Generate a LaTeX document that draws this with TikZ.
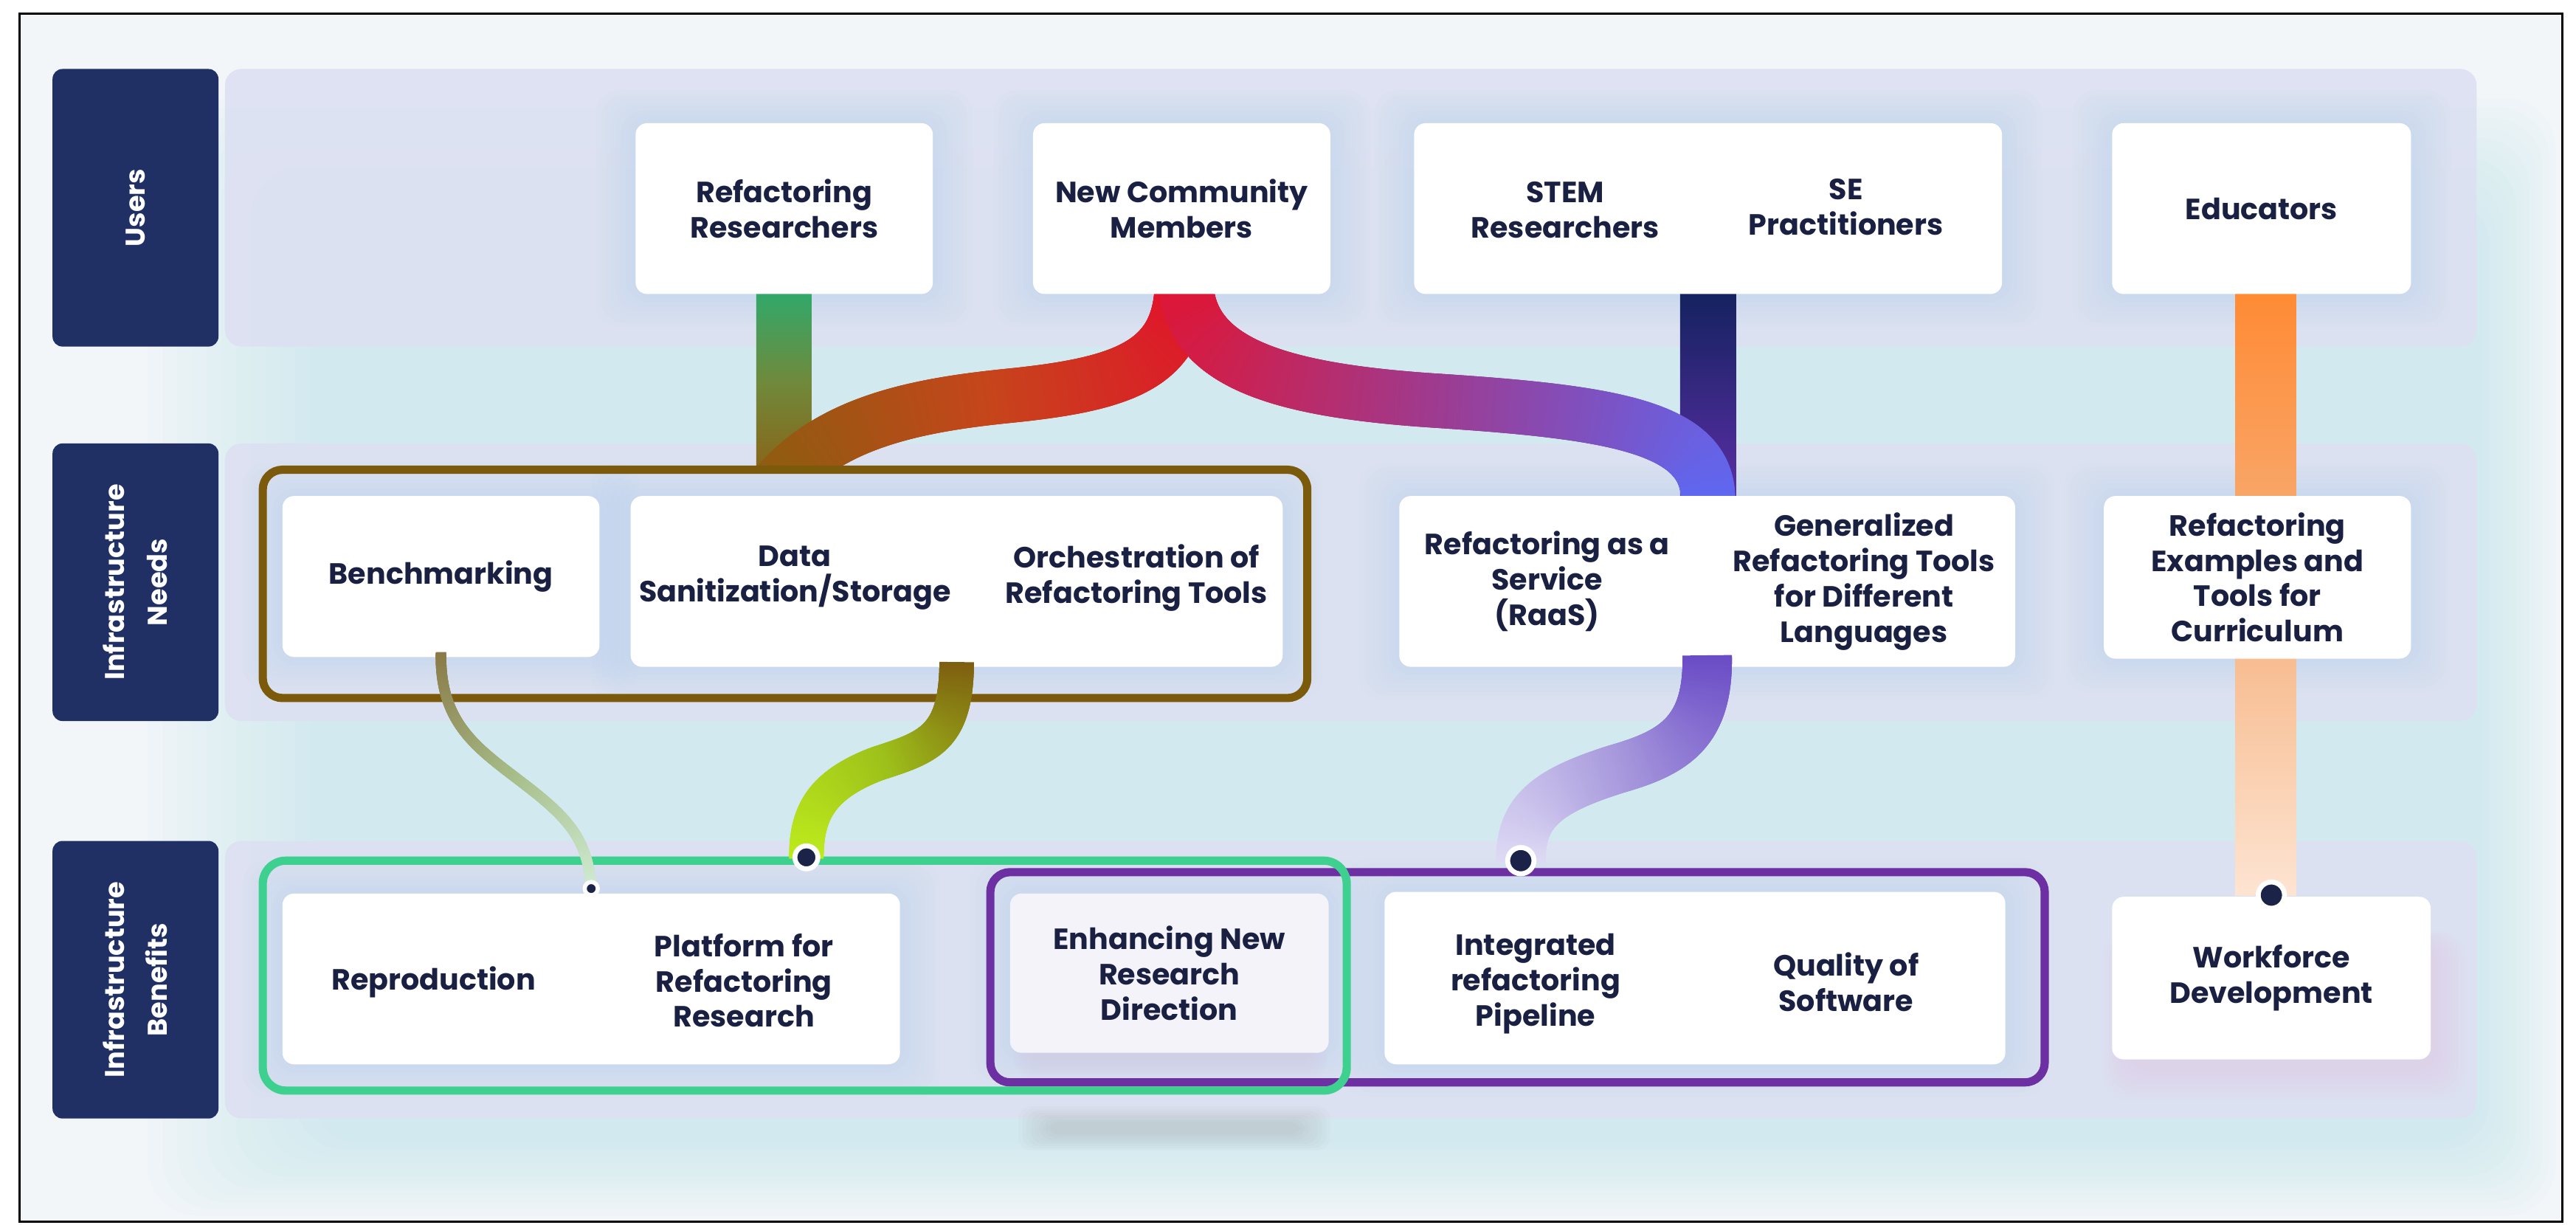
\documentclass[tikz,border=0pt]{standalone}
\usepackage{fontspec}
\setmainfont{Poppins}
\usetikzlibrary{decorations.markings}
\definecolor{navy}{HTML}{213064}
\definecolor{txt}{HTML}{1A2042}
\definecolor{bgbase}{HTML}{F2F6F8}
\definecolor{cyanglow}{HTML}{C6E8F0}
\definecolor{bandc}{HTML}{DDE1F2}
\definecolor{boxglow}{HTML}{B3D1EE}
\definecolor{pinkglow}{HTML}{E2C4E4}
\definecolor{brownc}{HTML}{7B5A0C}
\definecolor{greenc}{HTML}{3ED08E}
\definecolor{purplec}{HTML}{6C30A2}
\definecolor{dotc}{HTML}{1B2448}
\definecolor{enhc}{HTML}{F4F3FA}
\definecolor{grA}{HTML}{2EAA6C}
\definecolor{grB}{HTML}{6F8A3C}
\definecolor{grC}{HTML}{8A6418}
\definecolor{nvA}{HTML}{13225E}
\definecolor{nvB}{HTML}{5B2EA6}
\definecolor{orA}{HTML}{FF8A33}
\definecolor{orB}{HTML}{F6B27F}
\definecolor{orC}{HTML}{FDE4D2}
\definecolor{nlA}{HTML}{E2122C}
\definecolor{nlB}{HTML}{C6451B}
\definecolor{nlC}{HTML}{8A5E10}
\definecolor{nrA}{HTML}{DE1636}
\definecolor{nrB}{HTML}{9C3C92}
\definecolor{nrC}{HTML}{5E68F2}
\definecolor{bmA}{HTML}{8A7A48}
\definecolor{bmB}{HTML}{A6BC88}
\definecolor{bmC}{HTML}{CFEBD2}
\definecolor{dsA}{HTML}{7E5F10}
\definecolor{dsB}{HTML}{9EC11A}
\definecolor{dsC}{HTML}{BDEB1C}
\definecolor{gnA}{HTML}{6A4CC6}
\definecolor{gnB}{HTML}{A697DC}
\definecolor{gnC}{HTML}{DEDAF4}
\newcommand\mainf{\bfseries\fontsize{17.8}{21.5}\selectfont}
\newcommand\lblf{\bfseries\fontsize{16.5}{26}\selectfont}
\tikzset{
  ribbon/.style n args={4}{
    decoration={markings,
      mark=between positions 0 and 1 step 0.004 with {
        \pgfmathsetmacro\rfr{\pgfkeysvalueof{/pgf/decoration/mark info/distance from start}/\pgfdecoratedpathlength}
        \pgfmathsetmacro\rhl{0.005*\pgfdecoratedpathlength+0.3}
        \pgfmathtruncatemacro\rpa{min(100,max(0,200*\rfr))}
        \pgfmathtruncatemacro\rpb{min(100,max(0,200*\rfr-100))}
        \ifnum\rpb>0 \colorlet{rcol}{#4!\rpb!#3}\else\colorlet{rcol}{#3!\rpa!#2}\fi
        \fill[rcol] (-\rhl pt,-#1pt) rectangle (\rhl pt,#1pt);
      }},
    decorate
  },
  wbox/.style={fill=white, rounded corners=7pt, inner sep=0pt, text=txt, font=\mainf, align=center},
  txtn/.style={text=txt, font=\mainf, align=center, inner sep=0pt},
  lbl/.style={fill=navy, rounded corners=6pt, rotate=90, minimum width=169pt, minimum height=101pt,
              inner sep=0pt, text=white, font=\lblf, align=center},
  outline/.style={rounded corners=12pt, line width=5pt},
  dot/.style={circle, fill=dotc, draw=white, line width=3pt, inner sep=0pt},
}
\begin{document}
\begin{tikzpicture}[x=1pt,y=-1pt]
\useasboundingbox (0,0) rectangle (1568.5,745.8);
\fill[white] (0,0) rectangle (1568.5,745.8);
\fill[bgbase] (12,8.5) rectangle (1560,744);
% cyan glow
\foreach \i in {0,...,11} {
  \fill[cyanglow, opacity=0.075, rounded corners=30pt] (90+\i*9,60+\i*6) rectangle (1556-\i*4,740-\i*4);
}
% bands
\foreach \ya/\yb in {42/211, 270/439, 512/681} {
  \fill[bandc, opacity=0.93, rounded corners=10pt] (137,\ya) rectangle (1508,\yb);
}
% labels
\node[lbl] (lusers) at (82.5,126.5) {Users};
\node[lbl] (lneeds) at (82.5,354.5) {Infrastructure\\Needs};
\node[lbl] (lbenef) at (82.5,596.5) {Infrastructure\\Benefits};
% glows around boxes
\foreach \xa/\ya/\xb/\yb in {387/75/568/179, 629/75/810/179, 861/75/1219/179, 1286/75/1468/179,
   172/302/365/400, 384/302/781/406, 852/302/1227/406, 1281/302/1468/401,
   172/544/548/648, 615/544/809/641, 843/543/1221/648} {
  \foreach \i in {1,...,8} {
    \fill[boxglow, opacity=0.05, rounded corners=14pt] (\xa-3*\i,\ya-2.5*\i) rectangle (\xb+3*\i,\yb+2.5*\i);
  }
}
\foreach \i in {1,...,8} {
  \fill[pinkglow, opacity=0.06, rounded corners=16pt] (1296-2*\i,575-\i) rectangle (1482+2.5*\i,650+2.5*\i);
  \fill[pinkglow, opacity=0.05, rounded corners=12pt] (625-\i,600) rectangle (800+\i,645+\i*1.5);
  \fill[gray!75, opacity=0.045, rounded corners=8pt] (640-\i*2.5,684-\i*1.3) rectangle (790+\i*2.5,690+\i*1.3);
}
% coordinates for connector ends
\coordinate (cbrown) at (477,287);
\coordinate (craas) at (1040,304);
\coordinate (cwf) at (1383,545);
\coordinate (crep) at (360,541);
\coordinate (cplat) at (491,522);
\coordinate (cint) at (926,524);
% box anchors
\path (477.5,127) node[minimum width=181pt, minimum height=104pt] (rr) {}
      (719.5,127) node[minimum width=181pt, minimum height=104pt] (ncm) {}
      (1040,127) node[minimum width=358pt, minimum height=104pt] (stem) {}
      (1377,127) node[minimum width=182pt, minimum height=104pt] (edu) {}
      (268.5,351) node[minimum width=193pt, minimum height=98pt] (bench) {}
      (582.5,354) node[minimum width=397pt, minimum height=104pt] (data) {}
      (1039.5,354) node[minimum width=375pt, minimum height=104pt] (raas) {}
      (1374.5,351.5) node[minimum width=187pt, minimum height=99pt] (rex) {};
% straight bars
\shade[top color=grA, bottom color=grC, middle color=grB] ([xshift=-17pt,yshift=3pt]rr.south) rectangle ([xshift=17pt]cbrown);
\shade[top color=nvA, bottom color=nvB] ([xshift=-17pt,yshift=3pt]stem.south) rectangle ([xshift=17pt]craas);
\shade[top color=orA, bottom color=orC, middle color=orB] ([xshift=-16pt,yshift=3pt]edu.south) rectangle ([xshift=15pt]cwf);
% curved ribbons from New Community Members
\begin{scope}
\clip (0,0) rectangle (1568,287.5);
\path[ribbon={16.5}{nlA}{nlB}{nlC}] ([yshift=3pt]ncm.south) .. controls (717,222) and (684,234) .. (614,241)
   .. controls (555,247) and (500,258) .. (468,302);
\end{scope}
\path[ribbon={16.5}{nrA}{nrB}{nrC}] ([xshift=3pt,yshift=3pt]ncm.south) .. controls (727,222) and (782,238) .. (875,244)
   .. controls (982,251) and (1040,260) .. (craas);
% users boxes
\node[wbox, minimum width=181pt, minimum height=104pt] at (rr) {Refactoring\\Researchers};
\node[wbox, minimum width=181pt, minimum height=104pt] at (ncm) {New Community\\Members};
\node[wbox, minimum width=358pt, minimum height=104pt] at (stem) {};
\node[txtn] (stemt) at (953,128) {STEM\\Researchers};
\node[txtn] (set) at (1124,126) {SE\\Practitioners};
\node[wbox, minimum width=182pt, minimum height=104pt] at (edu) {Educators};
% needs boxes
\node[wbox, minimum width=193pt, minimum height=98pt] at (bench) {Benchmarking};
\node[wbox, minimum width=397pt, minimum height=104pt] at (data) {};
\node[txtn] (datat) at (484,352) {Data\\Sanitization/Storage};
\node[txtn] (orch) at (692,352) {Orchestration of\\Refactoring Tools};
\node[wbox, minimum width=375pt, minimum height=104pt] at (raas) {};
\node[txtn] (raast) at (942,354) {Refactoring as a\\Service\\(RaaS)};
\node[txtn] (gent) at (1135,354) {Generalized\\Refactoring Tools\\for Different\\Languages};
\node[wbox, minimum width=187pt, minimum height=99pt] at (rex) {Refactoring\\Examples and\\Tools for\\Curriculum};
% benefits boxes
\node[wbox, minimum width=376pt, minimum height=104pt] (repro) at (360,596) {};
\node[txtn] (reprot) at (264,598) {Reproduction};
\node[txtn] (platt) at (453,597) {Platform for\\Refactoring\\Research};
\node[wbox, fill=enhc, minimum width=194pt, minimum height=97pt] (enh) at (712,592.5) {Enhancing New\\Research\\Direction};
\node[wbox, minimum width=378pt, minimum height=105pt] (integ) at (1032,595.5) {};
\node[txtn] (integt) at (935,599) {Integrated\\refactoring\\Pipeline};
\node[txtn] (qual) at (1124,598) {Quality of\\Software};
\node[wbox, minimum width=194pt, minimum height=99pt] (wf) at (1383,595.5) {Workforce\\Development};
% group outlines
\draw[outline, brownc] (160,286) rectangle (796,425);
\draw[outline, purplec] (603,531) rectangle (1245,659);
\draw[outline, greenc, rounded corners=14pt] (160,524) rectangle (820,664);
% lower ribbons
\path[ribbon={3.2}{bmA}{bmB}{bmC}] ([yshift=2pt]bench.south) .. controls (268,440) and (290,455) .. (316,475)
   .. controls (345,497) and (358,510) .. (crep);
\path[ribbon={10.5}{dsA}{dsB}{dsC}] ([yshift=2pt]data.south) .. controls (582,450) and (565,455) .. (534,465)
   .. controls (500,478) and (491,495) .. (cplat);
\path[ribbon={15}{gnA}{gnB}{gnC}] ([yshift=6pt]raas.south) .. controls (1040,445) and (1020,458) .. (985,468)
   .. controls (940,482) and (926,495) .. (cint);
% dots
\node[dot, minimum size=8pt, line width=2.5pt] (drep) at (crep) {};
\node[dot, minimum size=14pt] (dplat) at (cplat) {};
\node[dot, minimum size=16pt] (dint) at (cint) {};
\node[dot, minimum size=16pt] (dwf) at (cwf) {};
% frame
\draw[black, line width=1.3pt] (12,8.5) rectangle (1560,744);
\end{tikzpicture}
\end{document}
